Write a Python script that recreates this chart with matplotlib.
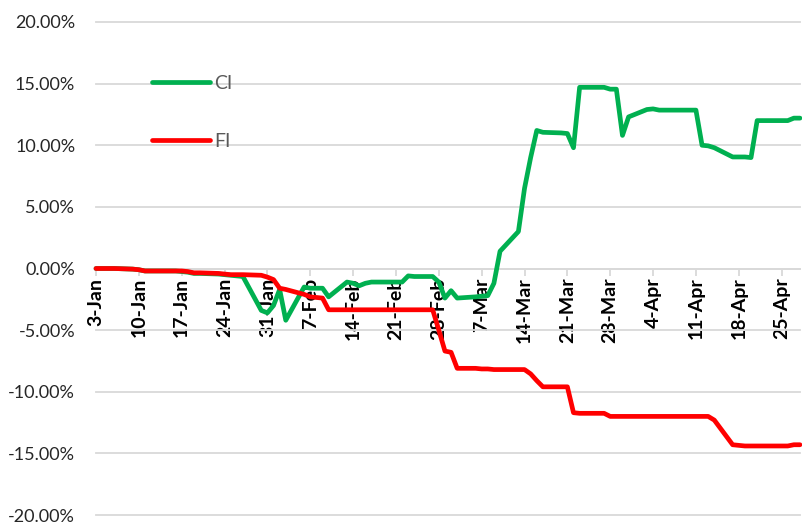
# -*- coding: utf-8 -*-

import matplotlib
matplotlib.use('Agg')
import matplotlib.pyplot as plt
import matplotlib.dates as mdates
import matplotlib.ticker as mticker
import pandas as pd

# trading days (Sun-Thu), 3-Jan to 28-Apr
dates = pd.bdate_range('2022-01-03', '2022-04-28', freq='C',
                       weekmask='Sun Mon Tue Wed Thu')

ci = [
    0.0, 0.0, 0.0, 0.0,
    -0.05, -0.1, -0.2, -0.2, -0.2,
    -0.2, -0.25, -0.3, -0.4, -0.4,
    -0.45, -0.5, -0.55, -0.6, -0.65,
    -3.4, -3.6, -3.0, -1.7, -4.2,
    -1.5, -1.6, -1.6, -1.6, -2.3,
    -1.1, -1.2, -1.4, -1.2, -1.1,
    -1.1, -1.1, -1.1, -0.6, -0.65,
    -0.65, -1.1, -2.4, -1.8, -2.4,
    -2.3, -2.25, -2.2, -1.2, 1.4,
    3.0, 6.5, 9.0, 11.2, 11.05,
    11.0, 10.95, 9.8, 14.7, 14.7,
    14.7, 14.55, 14.55, 10.8, 12.3,
    12.9, 12.95, 12.85, 12.85, 12.85,
    12.85, 12.85, 10.0, 9.95, 9.8,
    9.05, 9.05, 9.05, 9.0, 12.0,
    12.0, 12.0, 12.0, 12.2, 12.2,
]

fi = [
    0.0, 0.0, 0.0, 0.0,
    -0.05, -0.1, -0.2, -0.2, -0.2,
    -0.2, -0.2, -0.25, -0.35, -0.35,
    -0.4, -0.45, -0.5, -0.5, -0.5,
    -0.55, -0.7, -0.9, -1.6, -1.7,
    -2.1, -2.3, -2.35, -2.4, -3.35,
    -3.35, -3.35, -3.35, -3.35, -3.35,
    -3.35, -3.35, -3.35, -3.35, -3.35,
    -3.35, -5.0, -6.7, -6.8, -8.1,
    -8.1, -8.15, -8.15, -8.2, -8.2,
    -8.2, -8.2, -8.55, -9.1, -9.6,
    -9.6, -9.6, -11.7, -11.75, -11.75,
    -11.75, -12.0, -12.0, -12.0, -12.0,
    -12.0, -12.0, -12.0, -12.0, -12.0,
    -12.0, -12.0, -12.0, -12.0, -12.3,
    -14.3, -14.35, -14.4, -14.4, -14.4,
    -14.4, -14.4, -14.4, -14.3, -14.3,
]

grid_col = '#d9d9d9'

fig = plt.figure(figsize=(8.02, 5.24), dpi=100)
# plot area in pixels: x 96..800, y 22..515
ax = fig.add_axes([96 / 802, 9 / 524, 704 / 802, 493 / 524])

ax.plot(dates, ci, color='#00b050', lw=3.4, label='CI', zorder=3,
        solid_capstyle='round', solid_joinstyle='round', clip_on=False)
ax.plot(dates, fi, color='#ff0000', lw=3.4, label='FI', zorder=3,
        solid_capstyle='round', solid_joinstyle='round', clip_on=False)

ax.set_ylim(-20, 20)
ax.set_xlim(dates[0], dates[-1])
ax.yaxis.set_major_locator(mticker.MultipleLocator(5))
ax.yaxis.set_major_formatter(mticker.FuncFormatter(lambda v, p: '%.2f%%' % v))
ax.grid(axis='y', color=grid_col, lw=1.3)
for gl in ax.get_ygridlines():
    gl.set_clip_on(False)
ax.set_axisbelow(True)

for s in ['left', 'right', 'top']:
    ax.spines[s].set_visible(False)
ax.spines['bottom'].set_position(('data', 0))
ax.spines['bottom'].set_color(grid_col)
ax.spines['bottom'].set_linewidth(1.3)
ax.spines['bottom'].set_zorder(1)

ax.xaxis.set_major_locator(mdates.WeekdayLocator(byweekday=mdates.MO))
ax.xaxis.set_major_formatter(mticker.FuncFormatter(
    lambda v, p: '%d-%s' % (mdates.num2date(v).day, mdates.num2date(v).strftime('%b'))))

ax.tick_params(axis='y', length=0, pad=15, labelsize=13, labelcolor='#262626')
ax.tick_params(axis='x', length=5, width=1.3, color=grid_col, pad=1.5,
               labelsize=14, labelcolor='black')
for lbl in ax.get_xticklabels():
    lbl.set_rotation(90)
    lbl.set_fontweight('bold')

for lbl in ax.get_yticklabels() + ax.get_xticklabels():
    lbl.set_fontfamily('Lato')

leg = ax.legend(loc='upper left', bbox_to_anchor=(0.079, 0.893), frameon=False,
                handlelength=3.0, handletextpad=0.2, labelspacing=2.1,
                borderpad=0, borderaxespad=0,
                prop={'family': 'Lato', 'size': 14})
for t in leg.get_texts():
    t.set_color('#595959')

fig.savefig('out.png', dpi=100)
